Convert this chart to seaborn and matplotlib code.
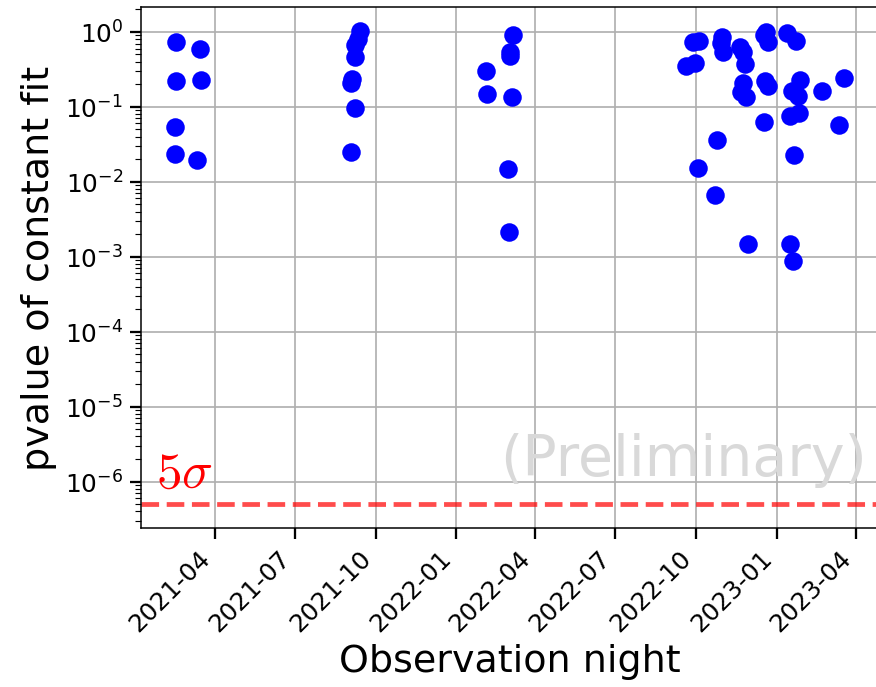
import matplotlib
matplotlib.use("Agg")
import matplotlib.pyplot as plt
import matplotlib.dates as mdates
import seaborn as sns
import pandas as pd

# ---- data ----
nights = [
    "2021-02-16", "2021-03-15", "2021-02-16", "2021-03-16", "2021-02-15", "2021-02-14", "2021-03-11",
    "2021-09-13", "2021-09-11", "2021-09-08", "2021-09-08", "2021-09-04", "2021-09-03", "2021-09-07", "2021-09-03",
    "2022-03-06", "2022-03-03", "2022-03-03", "2022-02-04", "2022-02-05", "2022-03-05", "2022-03-01", "2022-03-02",
    "2022-09-28", "2022-10-05", "2022-09-20", "2022-09-30", "2022-10-31", "2022-10-29", "2022-11-01",
    "2022-11-20", "2022-11-24", "2022-11-26", "2022-12-17", "2022-12-20", "2022-12-22",
    "2022-11-24", "2022-11-21", "2022-11-27", "2022-12-19", "2022-12-22", "2022-12-18",
    "2022-10-25", "2022-10-03", "2022-10-23", "2022-11-29",
    "2023-01-13", "2023-01-23", "2023-01-27", "2023-01-18", "2023-01-25", "2023-02-22", "2023-03-19",
    "2023-01-16", "2023-01-26", "2023-03-13", "2023-01-21", "2023-01-16", "2023-01-20",
]
pvalues = [
    0.736, 0.598, 0.222, 0.229, 0.0536, 0.0236, 0.0197,
    1.03, 0.80, 0.67, 0.464, 0.234, 0.211, 0.096, 0.0253,
    0.912, 0.546, 0.478, 0.302, 0.149, 0.135, 0.0150, 0.00211,
    0.742, 0.759, 0.355, 0.382, 0.866, 0.707, 0.546,
    0.637, 0.546, 0.371, 0.912, 1.0, 0.736,
    0.207, 0.160, 0.137, 0.218, 0.187, 0.0631,
    0.0363, 0.0155, 0.00669, 0.00150,
    0.961, 0.759, 0.229, 0.163, 0.140, 0.163, 0.246,
    0.0765, 0.0822, 0.0577, 0.0229, 0.00146, 0.00088,
]
five_sigma_p = 5e-7
threshold_label = r"$5\sigma$"
watermark = "(Preliminary)"
x_label = "Observation night"
y_label = "pvalue of constant fit"

df = pd.DataFrame({"night": pd.to_datetime(nights), "pvalue": pvalues})

fig = plt.figure(figsize=(6.4, 5.02), dpi=137)
ax = fig.add_axes([141 / 876, 159 / 687, 736 / 876, 520 / 687])

sns.scatterplot(data=df, x="night", y="pvalue", ax=ax, color="blue",
                s=95, linewidth=0, zorder=3)
ax.set_yscale("log")
ax.axhline(five_sigma_p, color="red", alpha=0.7, ls="--", lw=2.5, zorder=2)

ax.grid(True, which="major", color="#b0b0b0", lw=0.9)
ax.set_axisbelow(True)

ax.xaxis.set_major_locator(mdates.MonthLocator(bymonth=[1, 4, 7, 10]))
ax.xaxis.set_major_formatter(mdates.DateFormatter("%Y-%m"))
plt.setp(ax.get_xticklabels(), rotation=45, ha="right")
ax.tick_params(axis="both", labelsize=13, length=6, width=1.2)
ax.tick_params(axis="y", which="minor", length=3)

ax.set_xlabel(x_label, fontsize=20)
ax.set_ylabel(y_label, fontsize=20)

trans = matplotlib.transforms.blended_transform_factory(ax.transAxes, ax.transData)
ax.text(0.02, five_sigma_p * 1.2, threshold_label, transform=trans, color="red",
        fontsize=27, ha="left", va="bottom", math_fontfamily="cm")
ax.text(0.986, 0.13, watermark, transform=ax.transAxes, color="#d9d9d9",
        fontsize=30, ha="right", va="center")

fig.savefig("out.png", dpi=137)
